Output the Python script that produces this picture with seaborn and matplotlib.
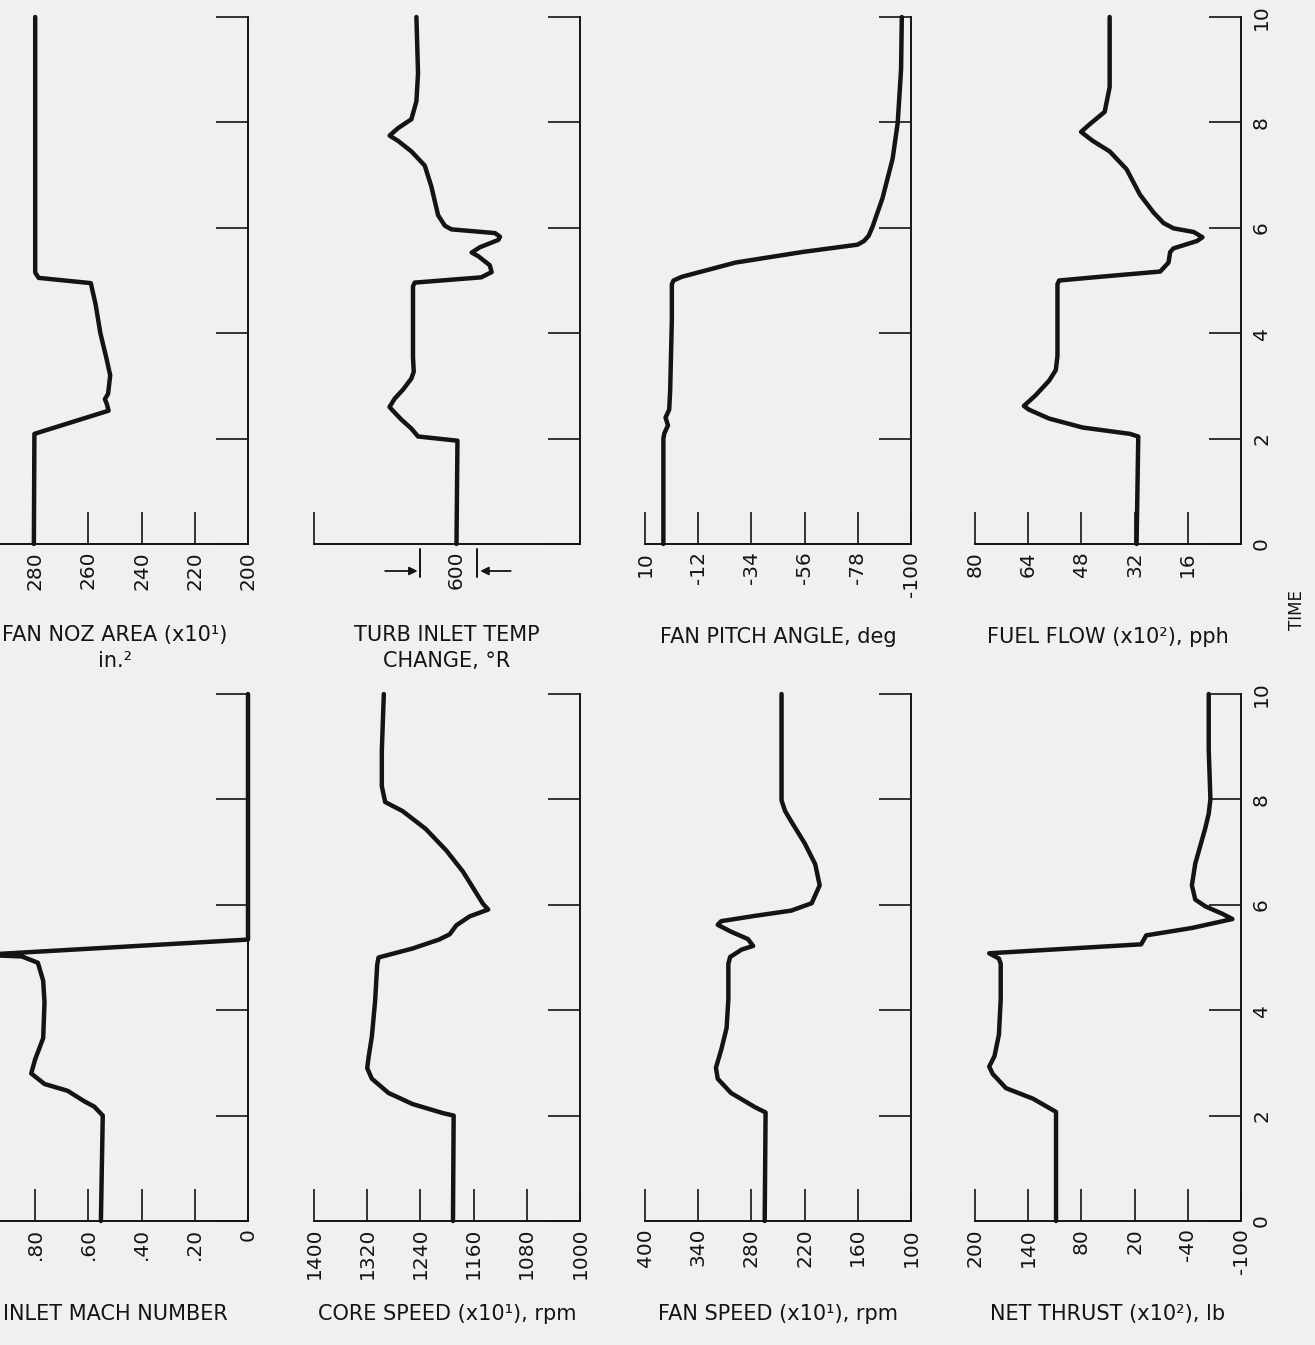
import matplotlib
matplotlib.use("Agg")
import matplotlib.pyplot as plt
import matplotlib.transforms as mtransforms
from matplotlib import font_manager
import numpy as np
import pandas as pd
import seaborn as sns

# ---- time histories (time in s, value in panel units) ----
mach_t = [0, 2.0, 2.17, 2.27, 2.47, 2.6, 2.8, 3.07, 3.47, 4.15, 4.56, 4.9, 5.02, 5.05, 5.34, 10]
mach_v = [0.553, 0.546, 0.578, 0.615, 0.678, 0.765, 0.815, 0.80, 0.77, 0.765, 0.77, 0.79, 0.85, 1.0, 0.0, 0.0]

noz_t = [0, 2.09, 2.53, 2.66, 2.75, 2.85, 3.2, 3.54, 4.0, 4.55, 4.95, 5.05, 5.15, 10]
noz_v = [280.5, 280.3, 252.4, 253.1, 253.8, 252.6, 251.8, 253.3, 255.5, 257.3, 259.1, 278.7, 280.0, 280.0]

core_t = [0, 2.0, 2.05, 2.22, 2.43, 2.7, 2.9, 3.1, 3.5, 4.19, 4.86, 5.0, 5.17, 5.34, 5.44,
          5.61, 5.78, 5.91, 6.02, 6.63, 7.03, 7.44, 7.78, 7.95, 8.25, 8.93, 10]
core_v = [1191, 1190, 1207, 1252, 1288, 1313, 1320, 1318, 1313, 1308, 1305, 1303, 1252, 1212, 1196,
          1186, 1166, 1138, 1146, 1176, 1201, 1232, 1267, 1293, 1298, 1298, 1295]

tit_t = [0, 1.96, 2.04, 2.19, 2.36, 2.53, 2.6, 2.76, 2.93, 3.14, 3.27, 3.54, 4.89, 4.96, 5.06,
         5.16, 5.29, 5.46, 5.53, 5.63, 5.77, 5.83, 5.9, 5.97, 6.04, 6.24, 6.78, 7.18, 7.45,
         7.65, 7.75, 7.89, 8.06, 8.4, 8.93, 10]
tit_v = [0, -10, 405, 475, 580, 670, 705, 650, 563, 475, 450, 458, 458, 440, -260,
         -370, -350, -230, -160, -245, -440, -458, -405, 53, 123, 194, 264, 334, 475,
         616, 704, 616, 475, 422, 405, 422]

fan_t = [0, 2.06, 2.16, 2.43, 2.7, 2.91, 3.25, 3.66, 4.2, 4.88, 5.01, 5.15, 5.22, 5.35, 5.49,
         5.62, 5.69, 5.79, 5.89, 6.03, 6.37, 6.77, 7.17, 7.58, 7.78, 7.98, 8.93, 10]
fan_v = [265, 264, 276, 303, 318, 320, 314, 308, 306, 306, 304, 291, 278, 284, 303,
         318, 314, 276, 235, 212, 203, 208, 220, 235, 242, 246, 246, 246]

pitch_t = [0, 2.0, 2.1, 2.25, 2.4, 2.55, 2.9, 4.25, 4.93, 5.0, 5.07, 5.34, 5.54, 5.68, 5.75,
           5.85, 6.02, 6.56, 7.31, 7.99, 9.01, 10]
pitch_v = [2.4, 2.4, 2.0, 0.5, 1.5, 0.0, -0.4, -1.1, -1.1, -1.8, -5.2, -27.4, -55.0, -77.9, -80.6,
           -82.5, -84.1, -88.2, -92.4, -94.5, -95.9, -96.2]

thr_t = [0, 2.07, 2.32, 2.52, 2.79, 2.93, 3.13, 3.54, 4.21, 4.88, 4.98, 5.08, 5.25, 5.42, 5.56,
         5.73, 5.83, 5.97, 6.1, 6.37, 6.78, 7.12, 7.46, 7.73, 8.0, 8.95, 10]
thr_v = [108.6, 108.6, 134.5, 165, 180, 184, 178, 173, 171, 171, 173, 184, 12.6, 6.9, -44.6,
         -90.3, -78.9, -59.8, -48.4, -44.6, -48.4, -54.1, -59.8, -63.6, -65.5, -63.6, -63.6]

fuel_t = [0, 2.04, 2.09, 2.21, 2.38, 2.55, 2.62, 2.82, 3.1, 3.3, 3.57, 4.93, 5.0, 5.07, 5.17,
          5.34, 5.54, 5.61, 5.75, 5.82, 5.92, 5.99, 6.09, 6.29, 6.63, 7.11, 7.45, 7.65, 7.82,
          7.96, 8.2, 8.67, 10]
fuel_v = [31.4, 30.9, 33.4, 47.6, 57.7, 63.8, 65.3, 61.8, 57.7, 55.7, 55.2, 55.2, 54.7, 42.5, 24.3,
          21.8, 21.3, 20.3, 13.2, 11.6, 14.2, 20.3, 23.3, 26.3, 30.4, 34.4, 39.5, 44.6, 48.1,
          45.6, 41.0, 39.5, 39.5]

# ---- axis scales, ticks and titles ----
mach_ticks = [0.8, 0.6, 0.4, 0.2, 0.0]
mach_labels = [".80", ".60", ".40", ".20", "0"]
noz_ticks = [280, 260, 240, 220, 200]
core_ticks = [1400, 1320, 1240, 1160, 1080, 1000]
tit_ticks = [1500, 0]
tit_labels = ["", "600"]
fan_ticks = [400, 340, 280, 220, 160, 100]
pitch_ticks = [10, -12, -34, -56, -78, -100]
thr_ticks = [200, 140, 80, 20, -40, -100]
fuel_ticks = [80, 64, 48, 32, 16]
time_ticks = [0, 2, 4, 6, 8, 10]

titles = {
    "mach": "INLET MACH NUMBER",
    "noz": "FAN NOZ AREA (x10\u00b9)\nin.\u00b2",
    "core": "CORE SPEED (x10\u00b9), rpm",
    "tit": "TURB INLET TEMP\nCHANGE, \u00b0R",
    "fan": "FAN SPEED (x10\u00b9), rpm",
    "pitch": "FAN PITCH ANGLE, deg",
    "thr": "NET THRUST (x10\u00b2), lb",
    "fuel": "FUEL FLOW (x10\u00b2), pph",
}

BG = "#f0f0ee"
INK = "#141414"

sns.set_theme(style="white", rc={"axes.facecolor": BG, "figure.facecolor": BG})
plt.rcParams["font.family"] = ["DejaVu Sans"]

# narrow face for the tall numerals, if it is installed
installed = {f.name for f in font_manager.fontManager.ttflist}
if "Liberation Sans Narrow" in installed:
    NUM_FAMILY, NUM_SIZE = ["Liberation Sans Narrow", "DejaVu Sans"], 18
else:
    NUM_FAMILY, NUM_SIZE = ["DejaVu Sans"], 14.5

W, H = 1315, 1345
fig = plt.figure(figsize=(W / 100, H / 100), dpi=100)

# panel geometry in pixels: column left edges, row baselines (t=0) and tops (t=10)
col_left = [-18, 314, 645, 975]
col_width = 266
rows = {"top": (544, 17), "bottom": (1221, 694)}

panels = [
    ("mach", "bottom", 0, mach_t, mach_v, (1.0, 0.0), mach_ticks, mach_labels),
    ("core", "bottom", 1, core_t, core_v, (1400, 1000), core_ticks, [str(v) for v in core_ticks]),
    ("fan", "bottom", 2, fan_t, fan_v, (400, 100), fan_ticks, [str(v) for v in fan_ticks]),
    ("thr", "bottom", 3, thr_t, thr_v, (200, -100), thr_ticks, [str(v) for v in thr_ticks]),
    ("noz", "top", 0, noz_t, noz_v, (300, 200), noz_ticks, [str(v) for v in noz_ticks]),
    ("tit", "top", 1, tit_t, tit_v, (1500, -1300), tit_ticks, tit_labels),
    ("pitch", "top", 2, pitch_t, pitch_v, (10, -100), pitch_ticks, [str(v) for v in pitch_ticks]),
    ("fuel", "top", 3, fuel_t, fuel_v, (80, 0), fuel_ticks, [str(v) for v in fuel_ticks]),
]

axes = {}
for key, row, col, t, v, xlim, ticks, ticklabels in panels:
    base, top = rows[row]
    ax = fig.add_axes([col_left[col] / W, (H - base) / H, col_width / W, (base - top) / H])
    ax.set_facecolor("none")
    df = pd.DataFrame({"value": v, "time": t})
    sns.lineplot(data=df, x="value", y="time", sort=False, estimator=None, ax=ax,
                 color=INK, linewidth=3.2, solid_joinstyle="round", solid_capstyle="round",
                 clip_on=False, zorder=5)
    ax.set_xlim(*xlim)
    ax.set_ylim(0, 10)
    ax.set_xlabel("")
    ax.set_ylabel("")

    for s in ("top", "left"):
        ax.spines[s].set_visible(False)
    for s in ("right", "bottom"):
        ax.spines[s].set_linewidth(1.4)
        ax.spines[s].set_color(INK)

    ax.set_xticks(ticks)
    ax.set_xticklabels(ticklabels, family=NUM_FAMILY)
    ax.tick_params(axis="x", direction="in", length=23, width=1.2, color=INK,
                   pad=5, labelsize=NUM_SIZE, labelrotation=90, labelcolor=INK,
                   bottom=True, top=False)
    ax.yaxis.tick_right()
    ax.set_yticks(time_ticks)
    ax.set_yticklabels([str(v) for v in time_ticks], family=NUM_FAMILY)
    ax.tick_params(axis="y", direction="in", length=23, width=1.2, color=INK,
                   pad=8, labelsize=NUM_SIZE, labelrotation=90, labelcolor=INK,
                   right=True, left=False, labelright=(col == 3), labelleft=False)
    for lab in ax.get_yticklabels():
        lab.set_va("center")
        lab.set_ha("left")

    # axis title below the panel, centred on it
    cx = col_left[col] + col_width / 2
    ty = base + (104 if "\n" in titles[key] else 93)
    fig.text(cx / W, 1 - ty / H, titles[key], ha="center", va="center",
             fontsize=15, color=INK, linespacing=1.35)
    axes[key] = ax

# 600 deg R scale bar under the turbine inlet temperature panel
ax = axes["tit"]
blend = mtransforms.blended_transform_factory(ax.transData, ax.transAxes)
ph = rows["top"][0] - rows["top"][1]
y0, y1, ya = -5 / ph, -33 / ph, -27 / ph
for xb in (380, -220):
    ax.plot([xb, xb], [y0, y1], transform=blend, color=INK, lw=1.4, clip_on=False)
ax.annotate("", xy=(380, ya), xytext=(780, ya), xycoords=blend, textcoords=blend,
            arrowprops=dict(arrowstyle="-|>", lw=1.3, color=INK, mutation_scale=12),
            annotation_clip=False)
ax.annotate("", xy=(-220, ya), xytext=(-600, ya), xycoords=blend, textcoords=blend,
            arrowprops=dict(arrowstyle="-|>", lw=1.3, color=INK, mutation_scale=12),
            annotation_clip=False)

# common time axis title
fig.text(1297 / W, 1 - 610 / H, "TIME", rotation=90, ha="center", va="center",
         fontsize=12, color=INK)

fig.savefig("out.png", dpi=100, facecolor=BG)
